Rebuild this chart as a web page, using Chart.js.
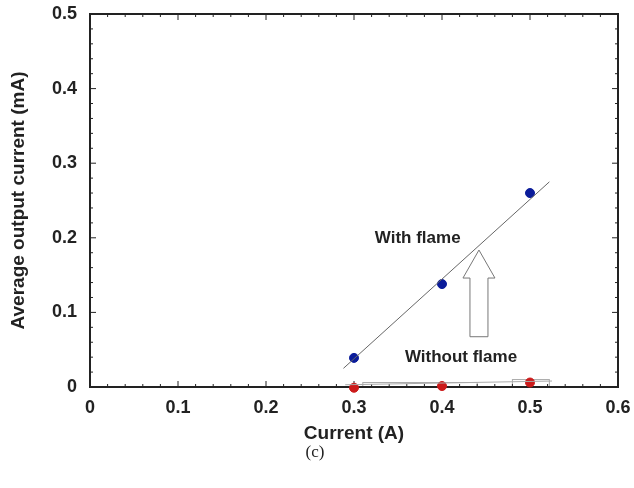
<!DOCTYPE html>
<html>
<head>
<meta charset="utf-8">
<script src="https://cdn.jsdelivr.net/npm/chart.js@4.4.1/dist/chart.umd.min.js"></script>
<style>
  html, body { margin: 0; padding: 0; background: #fff; }
  #wrap { width: 634px; height: 488px; }
</style>
</head>
<body>
<div id="wrap"><canvas id="myChart" width="634" height="488"></canvas></div>
<script>
// values
const currentA = [0.3, 0.4, 0.5];
const withFlame = [0.039, 0.138, 0.26];
const withoutFlame = [-0.001, 0.0013, 0.006];
// fitted lines (end points)
const fitWithX = [0.288, 0.522];
const fitWithY = [0.025, 0.275];
const fitWithoutX = [0.29, 0.525];
const fitWithoutY = [0.003, 0.008];
// faint boxes along the baseline: [x from, x to, height]
const baseBoxes = [[0.31, 0.44, 0.006], [0.48, 0.522, 0.01]];
// hollow arrow between the two series
const arrowX = 0.442;
const arrowY = [0.0674, 0.1836];
const xTicks = [0, 0.1, 0.2, 0.3, 0.4, 0.5, 0.6];
const yTicks = [0, 0.1, 0.2, 0.3, 0.4, 0.5];

const fontFam = '"Liberation Sans", Arial, sans-serif';
const toPts = (xs, ys) => xs.map((x, i) => ({ x: x, y: ys[i] }));

const labelFmt = v => (v === 0 ? '0' : v.toFixed(1));

// frame, inward ticks, arrow and labels
const decor = {
    id: 'decor',
    beforeDatasetsDraw(chart) {
        const c = chart.ctx;
        const a = chart.chartArea;
        const sx = chart.scales.x, sy = chart.scales.y;
        c.save();
        c.strokeStyle = '#aaa';
        c.fillStyle = '#fff';
        c.lineWidth = 1;
        baseBoxes.forEach(b => {
            const x0 = sx.getPixelForValue(b[0]), x1 = sx.getPixelForValue(b[1]);
            const y0 = sy.getPixelForValue(0), y1 = sy.getPixelForValue(b[2]);
            c.fillRect(x0, y1, x1 - x0, y0 - y1);
            c.strokeRect(x0, y1, x1 - x0, y0 - y1);
        });
        c.strokeStyle = '#222';
        for (let i = 0; i <= 30; i++) {
            const px = sx.getPixelForValue(i * 0.02);
            const len = i % 5 === 0 ? 6 : 3;
            c.beginPath();
            c.moveTo(px, a.bottom); c.lineTo(px, a.bottom - len);
            c.moveTo(px, a.top); c.lineTo(px, a.top + len);
            c.stroke();
        }
        for (let i = 0; i <= 25; i++) {
            const py = sy.getPixelForValue(i * 0.02);
            const len = i % 5 === 0 ? 6 : 3;
            c.beginPath();
            c.moveTo(a.left, py); c.lineTo(a.left + len, py);
            c.moveTo(a.right, py); c.lineTo(a.right - len, py);
            c.stroke();
        }
        c.lineWidth = 2;
        c.strokeRect(a.left, a.top, a.right - a.left, a.bottom - a.top);
        c.restore();
    },
    afterDraw(chart) {
        const c = chart.ctx;
        const sx = chart.scales.x, sy = chart.scales.y;
        c.save();
        // hollow arrow
        const ax = sx.getPixelForValue(arrowX);
        const y0 = sy.getPixelForValue(arrowY[0]);
        const y1 = sy.getPixelForValue(arrowY[1]);
        const hw = 16, sw = 9, hh = 28;
        c.beginPath();
        c.moveTo(ax - sw, y0);
        c.lineTo(ax - sw, y1 + hh);
        c.lineTo(ax - hw, y1 + hh);
        c.lineTo(ax, y1);
        c.lineTo(ax + hw, y1 + hh);
        c.lineTo(ax + sw, y1 + hh);
        c.lineTo(ax + sw, y0);
        c.closePath();
        c.fillStyle = '#fff';
        c.fill();
        c.strokeStyle = '#777';
        c.lineWidth = 1;
        c.stroke();
        // text labels
        c.fillStyle = '#222';
        c.font = 'bold 17px ' + fontFam;
        c.textAlign = 'center';
        c.textBaseline = 'middle';
        c.fillText('With flame', sx.getPixelForValue(0.3724), sy.getPixelForValue(0.1988));
        c.fillText('Without flame', sx.getPixelForValue(0.4216), sy.getPixelForValue(0.0402));
        // caption
        c.font = '17px "Liberation Serif", "Times New Roman", serif';
        c.fillText('(c)', 315, 453);
        c.restore();
    }
};

const ctx = document.getElementById('myChart').getContext('2d');
const myChart = new Chart(ctx, {
    type: 'scatter',
    data: {
        datasets: [
            {
                label: 'fit with',
                data: toPts(fitWithX, fitWithY),
                showLine: true,
                borderColor: '#666',
                borderWidth: 1,
                pointRadius: 0
            },
            {
                label: 'fit without',
                data: toPts(fitWithoutX, fitWithoutY),
                showLine: true,
                borderColor: '#aaa',
                borderWidth: 1,
                pointRadius: 0
            },
            {
                label: 'With flame',
                data: toPts(currentA, withFlame),
                backgroundColor: '#0b1c9a',
                borderColor: '#0b1c9a',
                pointRadius: 4.5,
                clip: false
            },
            {
                label: 'Without flame',
                data: toPts(currentA, withoutFlame),
                backgroundColor: '#cc1b1b',
                borderColor: '#cc1b1b',
                pointRadius: 4.5,
                clip: false
            }
        ]
    },
    options: {
        responsive: false,
        animation: false,
        layout: { padding: { top: 14, right: 16, bottom: 41, left: 0 } },
        plugins: {
            legend: { display: false },
            tooltip: { enabled: false }
        },
        scales: {
            x: {
                type: 'linear',
                min: 0,
                max: 0.6,
                afterBuildTicks: s => { s.ticks = xTicks.map(v => ({ value: v })); },
                afterFit: s => { s.height = 60; s.paddingLeft = 0; s.paddingRight = 0; },
                grid: { display: false, drawTicks: false },
                border: { display: false },
                ticks: {
                    color: '#222',
                    padding: 10,
                    font: { family: fontFam, size: 18, weight: 'bold' },
                    callback: labelFmt
                },
                title: {
                    display: true,
                    text: 'Current (A)',
                    color: '#222',
                    padding: { top: 2, bottom: 2 },
                    font: { family: fontFam, size: 19, weight: 'bold' }
                }
            },
            y: {
                type: 'linear',
                min: 0,
                max: 0.5,
                afterBuildTicks: s => { s.ticks = yTicks.map(v => ({ value: v })); },
                afterFit: s => { s.width = 90; s.paddingTop = 0; s.paddingBottom = 0; },
                grid: { display: false, drawTicks: false },
                border: { display: false },
                ticks: {
                    color: '#222',
                    padding: 13,
                    font: { family: fontFam, size: 18, weight: 'bold' },
                    callback: labelFmt
                },
                title: {
                    display: true,
                    text: 'Average output current (mA)',
                    color: '#222',
                    padding: { top: 7, bottom: 2 },
                    font: { family: fontFam, size: 19, weight: 'bold' }
                }
            }
        }
    },
    plugins: [decor]
});
</script>
</body>
</html>
